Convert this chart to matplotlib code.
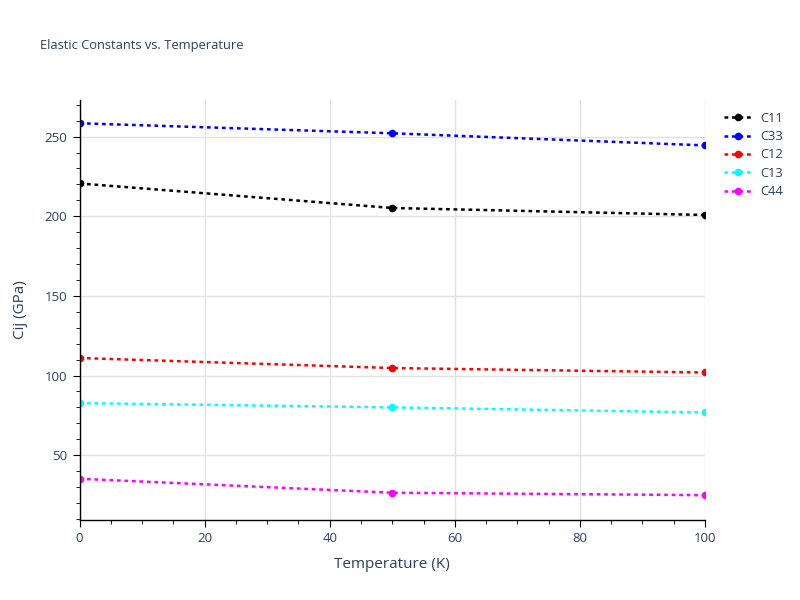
import matplotlib
matplotlib.use("Agg")
import matplotlib.pyplot as plt
from matplotlib.ticker import MultipleLocator

plt.rcParams['font.family'] = ['Open Sans', 'DejaVu Sans']

temperature = [0, 50, 100]
series_names = ["C11", "C33", "C12", "C13", "C44"]
c11 = [220.6, 205.2, 200.8]
c33 = [258.4, 252.1, 244.5]
c12 = [111.0, 104.7, 101.9]
c13 = [82.7, 80.0, 76.8]
c44 = [35.2, 26.4, 24.9]
colors = ["black", "blue", "red", "cyan", "magenta"]

text_col = "#2a3f5f"

fig = plt.figure(figsize=(8, 6), dpi=100)
ax = fig.add_axes([79.5 / 800, 1 - 519.5 / 600, (705 - 79.5) / 800, (519.5 - 100) / 600])

for name, vals, col in zip(series_names, [c11, c33, c12, c13, c44], colors):
    ax.plot(temperature, vals, linestyle=(0, (1.5, 1.5)), linewidth=1.8, color=col,
            marker="o", markersize=4.5, label=name)

ax.set_xlim(0, 100)
ax.set_ylim(9.6, 273)
ax.xaxis.set_major_locator(MultipleLocator(20))
ax.xaxis.set_minor_locator(MultipleLocator(5))
ax.yaxis.set_major_locator(MultipleLocator(50))
ax.yaxis.set_minor_locator(MultipleLocator(10))
ax.grid(True, which="major", color="#e1e1e1", linewidth=1)
ax.set_axisbelow(True)

for s in ["top", "right"]:
    ax.spines[s].set_visible(False)
for s in ["left", "bottom"]:
    ax.spines[s].set_color("black")
    ax.spines[s].set_linewidth(1)

ax.tick_params(which="major", direction="out", length=5, color="black", labelsize=9.5,
               labelcolor=text_col, pad=4)
ax.tick_params(which="minor", direction="out", length=3, color="black")

ax.set_xlabel("Temperature (K)", fontsize=11, color=text_col, labelpad=9)
ax.set_ylabel("Cij (GPa)", fontsize=11, color=text_col, labelpad=12)
fig.text(40 / 800, 1 - 45 / 600, "Elastic Constants vs. Temperature", fontsize=9.3,
         color=text_col, va="center", ha="left")

leg = ax.legend(loc="upper left", bbox_to_anchor=(712 / 800, 1 - 100 / 600),
                bbox_transform=fig.transFigure, frameon=False, fontsize=9.3,
                handlelength=2.2, labelspacing=0.42, handletextpad=0.6)
for t in leg.get_texts():
    t.set_color(text_col)

fig.savefig("out.png", dpi=100)
